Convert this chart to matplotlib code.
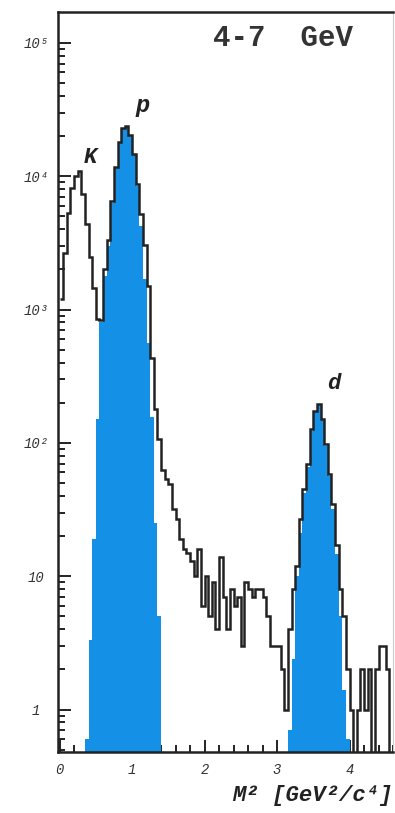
import numpy as np
import matplotlib
matplotlib.use("Agg")
import matplotlib.pyplot as plt
from matplotlib.ticker import FixedLocator, MultipleLocator, NullFormatter

# mass-squared histogram, 4-7 GeV momentum bin, 0.05 GeV^2/c^4 bins
bin_width = 0.05
m2_min = 0.0

# all tracks
counts_all = [1200, 2640, 5270, 8100, 10000, 10900, 7400, 4400, 2500, 1440,
              855, 830, 2000, 3300, 6500, 11800, 18000, 23000, 24000, 20500,
              14600, 8700, 5200, 3030, 1500, 430, 180, 107, 63, 54,
              49, 32, 27, 19, 16, 15, 13, 10, 16, 6,
              10, 5, 9, 4, 14, 7, 4, 8, 6, 7,
              3, 9, 8, 7, 8, 8, 7, 5, 3, 3,
              3, 2, 1, 4, 8, 12, 27, 45, 69, 127,
              174, 196, 151, 98, 58, 35, 17, 8, 5, 2,
              1, 0, 1, 2, 1, 2, 0, 2, 3, 3,
              2, 0]

# selected protons, starting at 0.35
p_start = 0.35
counts_p = [0.6, 3.3, 19, 150, 800, 1800, 3000, 6300, 11500, 17800,
            22800, 24000, 20300, 14500, 8500, 4200, 1700, 560, 156, 25,
            5, 0.4]

# selected deuterons, starting at 3.15
d_start = 3.15
counts_d = [0.7, 2.4, 10, 21, 42, 66, 122, 170, 192, 148,
            95, 56, 32, 14.7, 5, 1.4, 0.6]

y_ticks = [1, 10, 100, 1000, 10000, 100000]
y_labels = ["1", "10", "10\u00b2", "10\u00b3", "10\u2074", "10\u2075"]
x_ticks = [0, 1, 2, 3, 4]

blue = "#1490e6"
ink = "#222222"
mono = ["Liberation Mono", "DejaVu Sans Mono"]

def edges(start, n):
    return start + bin_width * np.arange(n + 1)

fig = plt.figure(figsize=(3.95, 8.13), dpi=100)
ax = fig.add_axes([0.147, 0.075, 0.848, 0.910])
ax.set_yscale("log", nonpositive="clip")

ax.stairs(counts_p, edges(p_start, len(counts_p)), fill=True,
          baseline=0.1, color=blue, zorder=2)
ax.stairs(counts_d, edges(d_start, len(counts_d)), fill=True,
          baseline=0.1, color=blue, zorder=2)
ax.stairs(counts_all, edges(m2_min, len(counts_all)), baseline=None,
          color=ink, linewidth=1.8, zorder=3)

ax.set_xlim(-0.02, 4.6)
ax.set_ylim(0.48, 1.7e5)

ax.yaxis.set_major_locator(FixedLocator(y_ticks))
ax.set_yticklabels(y_labels)
ax.yaxis.set_minor_locator(FixedLocator(
    [m * 10.0 ** e for e in range(0, 5) for m in range(2, 10)] + [0.5, 0.6, 0.7, 0.8, 0.9]))
ax.yaxis.set_minor_formatter(NullFormatter())
ax.xaxis.set_major_locator(FixedLocator(x_ticks))
ax.xaxis.set_minor_locator(MultipleLocator(0.2))

ax.tick_params(which="both", direction="in", top=False, right=False,
               width=1.4, color=ink)
ax.tick_params(which="major", length=9)
ax.tick_params(which="minor", length=5)
ax.tick_params(axis="y", pad=16)
ax.tick_params(axis="x", pad=8)
for lab in ax.get_xticklabels() + ax.get_yticklabels():
    lab.set_family(mono)
    lab.set_style("italic")
    lab.set_fontsize(10)
    lab.set_color("#333333")
for lab in ax.get_yticklabels():
    lab.set_horizontalalignment("center")

for side in ["left", "bottom", "top"]:
    ax.spines[side].set_linewidth(1.8)
    ax.spines[side].set_color(ink)
ax.spines["right"].set_linewidth(0.8)
ax.spines["right"].set_color("#cccccc")

ax.text(0.43, 13900, "K", family=mono, style="italic", fontsize=16,
        fontweight="bold", ha="center", va="center", color=ink)
ax.text(1.14, 34000, "p", family=mono, style="italic", fontsize=17,
        fontweight="bold", ha="center", va="center", color=ink)
ax.text(3.79, 277, "d", family=mono, style="italic", fontsize=16,
        fontweight="bold", ha="center", va="center", color=ink)
ax.text(0.672, 0.965, "4-7  GeV", transform=ax.transAxes, family=mono,
        fontweight="bold", fontsize=21, ha="center", va="center",
        color="#333333")
ax.set_xlabel("M\u00b2 [GeV\u00b2/c\u2074]", family=mono, style="italic",
              fontweight="bold", fontsize=16, loc="right", color=ink,
              labelpad=6)

fig.savefig("out.png", dpi=100)
